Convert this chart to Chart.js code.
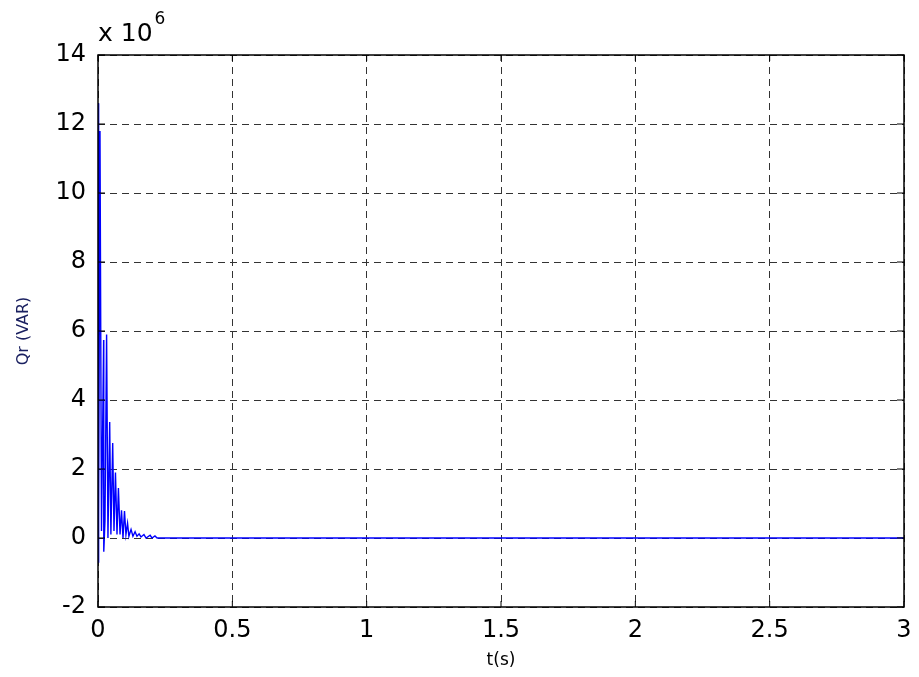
<!DOCTYPE html>
<html>
<head>
<meta charset="utf-8">
<script src="https://cdn.jsdelivr.net/npm/chart.js@4"></script>
<style>
  html, body { margin: 0; padding: 0; background: #fff; }
  #wrap { width: 919px; height: 677px; }
</style>
</head>
<body>
<div id="wrap"><canvas id="qrChart"></canvas></div>
<script>
// time in seconds, Qr in units of 1e6 VAR
const timeS = [0, 0.001, 0.0037, 0.0074, 0.013, 0.021, 0.0215, 0.026, 0.032, 0.037, 0.0435, 0.048,
  0.0547, 0.0595, 0.065, 0.0707, 0.076, 0.082, 0.0875, 0.093, 0.0986, 0.104, 0.11, 0.115,
  0.123, 0.13, 0.138, 0.145, 0.153, 0.16, 0.171, 0.179, 0.194, 0.201, 0.212, 0.22, 0.23, 3];
const qrMVar = [-0.7, 12.6, 0.6, 11.8, 0.2, 5.74, -0.4, 0.5, 5.9, 0.0, 3.36, 0.1,
  2.75, 0.2, 1.9, 0.1, 1.45, 0.1, 0.8, 0.0, 0.78, 0.1, 0.43, 0.05,
  0.25, 0.05, 0.18, 0.05, 0.12, 0.03, 0.1, 0.0, 0.08, 0.0, 0.06, 0.0, 0.0, 0.0];
const xTicks = [0, 0.5, 1, 1.5, 2, 2.5, 3];
const yTicks = [-2, 0, 2, 4, 6, 8, 10, 12, 14];

const points = timeS.map((t, i) => ({ x: t, y: qrMVar[i] }));
const FONT = '"DejaVu Sans", Arial, sans-serif';

// box, inward ticks and the exponent label, matlab style
const frame = {
  id: 'frame',
  afterDraw(chart) {
    const { ctx, chartArea: a, scales } = chart;
    ctx.save();
    ctx.strokeStyle = '#000';
    ctx.lineWidth = 1.5;
    ctx.strokeRect(a.left, a.top, a.right - a.left, a.bottom - a.top);
    ctx.lineWidth = 1;
    ctx.beginPath();
    xTicks.forEach(v => {
      const x = scales.x.getPixelForValue(v);
      ctx.moveTo(x, a.bottom); ctx.lineTo(x, a.bottom - 6);
      ctx.moveTo(x, a.top); ctx.lineTo(x, a.top + 6);
    });
    yTicks.forEach(v => {
      const y = scales.y.getPixelForValue(v);
      ctx.moveTo(a.left, y); ctx.lineTo(a.left + 7, y);
      ctx.moveTo(a.right, y); ctx.lineTo(a.right - 7, y);
    });
    ctx.stroke();
    ctx.fillStyle = '#000';
    ctx.textBaseline = 'alphabetic';
    ctx.font = '25px ' + FONT;
    ctx.fillText('x 10', a.left, 41);
    const w = ctx.measureText('x 10').width;
    ctx.font = '17px ' + FONT;
    ctx.fillText('6', a.left + w + 2, 24);
    ctx.restore();
  }
};

new Chart(document.getElementById('qrChart'), {
  type: 'line',
  data: {
    datasets: [{
      data: points,
      borderColor: '#0000ff',
      borderWidth: 1.4,
      pointRadius: 0,
      tension: 0,
      fill: false
    }]
  },
  options: {
    responsive: true,
    maintainAspectRatio: false,
    animation: false,
    layout: { padding: { top: 55, right: 15, left: 0, bottom: 0 } },
    plugins: { legend: { display: false }, tooltip: { enabled: false } },
    scales: {
      x: {
        type: 'linear',
        min: 0, max: 3,
        afterBuildTicks: s => { s.ticks = xTicks.map(v => ({ value: v })); },
        afterFit: s => { s.height = 70; s.paddingRight = 0; },
        grid: { color: '#333', lineWidth: 1, drawTicks: false },
        border: { display: false, dash: [7, 5] },
        ticks: {
          color: '#000', padding: 9,
          font: { family: FONT, size: 24 },
          maxRotation: 0,
          callback: v => String(v)
        },
        title: {
          display: true, text: 't(s)', color: '#000',
          font: { family: FONT, size: 17 },
          padding: { top: 0, bottom: 6 }
        }
      },
      y: {
        type: 'linear',
        min: -2, max: 14,
        afterBuildTicks: s => { s.ticks = yTicks.map(v => ({ value: v })); },
        afterFit: s => { s.width = 98; },
        grid: { color: '#333', lineWidth: 1, drawTicks: false },
        border: { display: false, dash: [7, 5] },
        ticks: {
          color: '#000', padding: 12,
          font: { family: FONT, size: 24 }
        },
        title: {
          display: true, text: 'Qr (VAR)', color: '#1a2060',
          font: { family: FONT, size: 16 },
          padding: { top: 14, bottom: 0 }
        }
      }
    }
  },
  plugins: [frame]
});
</script>
</body>
</html>
